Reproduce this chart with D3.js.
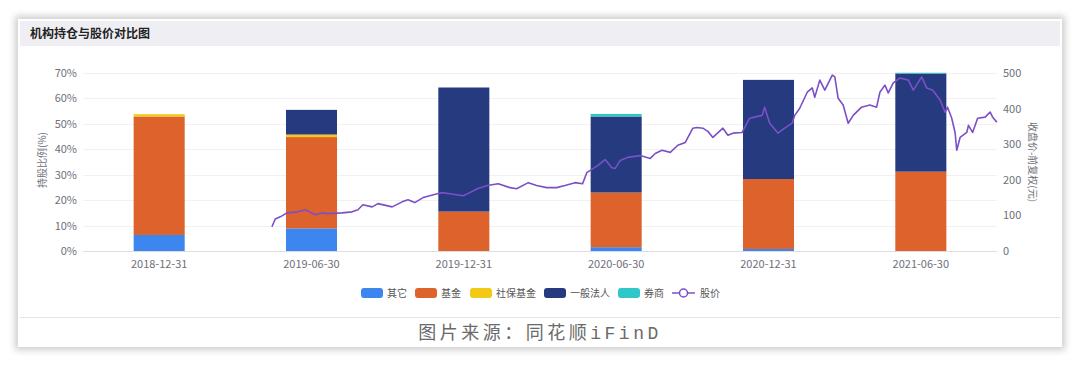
<!DOCTYPE html>
<html>
<head>
  <meta charset="utf-8">
  <style>
    body {
      margin: 0;
      background: #fff;
      font-family: "Noto Sans CJK SC", "Noto Sans", sans-serif;
    }
    .card {
      position: absolute;
      left: 18px;
      top: 19px;
      width: 1044px;
      height: 328px;
      background: #fff;
      box-shadow: 0 0 7px 3px rgba(0,0,0,0.2);
    }
    svg {
      position: absolute;
      left: 0;
      top: 0;
    }
    .tick-label {
      fill: #6e7079;
      font-size: 11px;
    }
    .axis-title {
      fill: #6e7079;
      font-size: 10px;
    }
    .legend-label {
      fill: #555;
      font-size: 10px;
    }
  </style>
  <script src="https://d3js.org/d3.v7.min.js"></script>
</head>
<body>
<div class="card"></div>
<div class="vizualisation-container"></div>
<script>

const categories = ['2018-12-31', '2019-06-30', '2019-12-31', '2020-06-30', '2020-12-31', '2021-06-30'];
const seriesNames = ['其它', '基金', '社保基金', '一般法人', '券商'];

// holdings, % of shares
const otherPct  = [6.3, 8.9, 0, 1.5, 0.8, 0];
const fundPct   = [46.6, 35.9, 15.5, 21.5, 27.5, 31.2];
const ssfPct    = [0.9, 1.0, 0, 0, 0, 0];
const corpPct   = [0, 9.7, 48.8, 29.9, 39.0, 38.6];
const brokerPct = [0, 0, 0, 1.0, 0, 0.3];

// closing price, forward adjusted (yuan)
const priceDates = [
  '2019-05-15','2019-05-19','2019-05-25','2019-06-02','2019-06-15','2019-06-24','2019-07-06','2019-07-14',
  '2019-07-21','2019-08-07','2019-08-19','2019-08-26','2019-09-01','2019-09-12','2019-09-19','2019-10-06',
  '2019-10-18','2019-10-25','2019-11-02','2019-11-12','2019-11-20','2019-11-29','2019-12-05','2019-12-14',
  '2019-12-30','2020-01-07','2020-01-16','2020-01-28','2020-02-10','2020-02-24','2020-03-03','2020-03-17',
  '2020-03-27','2020-04-08','2020-04-20','2020-04-30','2020-05-12','2020-05-21','2020-05-26','2020-06-08',
  '2020-06-17','2020-06-25','2020-06-29','2020-07-05','2020-07-14','2020-07-29','2020-08-10','2020-08-16',
  '2020-08-24','2020-09-03','2020-09-12','2020-09-21','2020-09-30','2020-10-05','2020-10-12','2020-10-18',
  '2020-10-24','2020-11-05','2020-11-11','2020-11-17','2020-11-28','2020-12-07','2020-12-13','2020-12-22',
  '2020-12-25','2020-12-31','2021-01-10','2021-01-18','2021-01-27','2021-01-30','2021-02-05','2021-02-14',
  '2021-02-20','2021-02-23','2021-03-01','2021-03-07','2021-03-16','2021-03-19','2021-03-23','2021-03-29',
  '2021-04-04','2021-04-10','2021-04-20','2021-04-30','2021-05-08','2021-05-12','2021-05-18','2021-05-22',
  '2021-05-28','2021-06-05','2021-06-15','2021-06-21','2021-07-01','2021-07-07','2021-07-14','2021-07-23',
  '2021-07-29','2021-08-01','2021-08-06','2021-08-10','2021-08-12','2021-08-16','2021-08-24','2021-08-26',
  '2021-08-31','2021-09-06','2021-09-15','2021-09-21','2021-09-24','2021-09-29'
];
const priceValues = [
  68, 90, 96, 107, 110, 116, 102, 107,
  105, 107, 110, 116, 130, 124, 133, 124,
  138, 144, 136, 150, 155, 161, 164, 161,
  155, 164, 175, 184, 189, 178, 175, 192,
  184, 178, 178, 184, 192, 189, 220, 240,
  257, 234, 232, 254, 263, 268, 260, 274,
  283, 277, 297, 305, 345, 347, 345, 336,
  319, 345, 325, 331, 333, 373, 376, 381,
  404, 359, 331, 345, 359, 381, 401, 446,
  458, 432, 480, 452, 494, 489, 429, 410,
  359, 381, 404, 410, 404, 446, 466, 444,
  472, 486, 480, 452, 489, 458, 452, 424,
  390, 404, 373, 333, 283, 319, 333, 353,
  333, 373, 376, 390, 376, 362
];

const pctTicks = [0, 10, 20, 30, 40, 50, 60, 70];
const priceTicks = [0, 100, 200, 300, 400, 500];

const seriesColours = ['#3d86ef', '#dd622b', '#f2c916', '#263a80', '#2ec8c8'];
const priceColour = '#7b50c6';

function drawChart(){
  const width = 1080;
  const height = 365;
  const plot = {left: 83, right: 997, top: 73, bottom: 251};

  const svg = d3.select('.vizualisation-container')
    .append('svg')
    .attr('width', width)
    .attr('height', height);

  // title bar
  svg.append('rect')
    .attr('x', 20).attr('y', 21)
    .attr('width', 1040).attr('height', 25)
    .attr('fill', '#efeff3');
  svg.append('text')
    .attr('x', 30).attr('y', 38)
    .attr('font-size', 12)
    .attr('font-weight', 'bold')
    .attr('fill', '#222')
    .text('机构持仓与股价对比图');

  // separator above the source note
  svg.append('line')
    .attr('x1', 20).attr('x2', 1060)
    .attr('y1', 317.5).attr('y2', 317.5)
    .attr('stroke', '#e4e4e4');

  svg.append('text')
    .attr('x', 540).attr('y', 339)
    .attr('text-anchor', 'middle')
    .attr('font-family', '"Liberation Mono", "Noto Sans CJK SC", monospace')
    .attr('font-size', 18)
    .attr('letter-spacing', '3.5px')
    .attr('fill', '#6a6a6a')
    .text('图片来源：同花顺iFinD');

  // scales
  const x = d3.scaleBand()
    .domain(categories)
    .range([plot.left, plot.right]);

  const yPct = d3.scaleLinear()
    .domain([0, 70])
    .range([plot.bottom, plot.top]);

  const yPrice = d3.scaleLinear()
    .domain([0, 500])
    .range([plot.bottom, plot.top]);

  const parseDate = d3.timeParse('%Y-%m-%d');
  const xTime = d3.scaleTime()
    .domain([parseDate(categories[0]), parseDate(categories[categories.length-1])])
    .range([x(categories[0]) + x.bandwidth()/2, x(categories[categories.length-1]) + x.bandwidth()/2]);

  // grid
  svg.append('g')
    .selectAll('line')
    .data(pctTicks)
    .enter()
    .append('line')
      .attr('x1', plot.left).attr('x2', plot.right)
      .attr('y1', d=>Math.round(yPct(d)) + 0.5)
      .attr('y2', d=>Math.round(yPct(d)) + 0.5)
      .attr('stroke', d=> d === 0 ? '#dcdde3' : '#f1f1f4');

  // left axis
  svg.append('g')
    .selectAll('text')
    .data(pctTicks)
    .enter()
    .append('text')
      .attr('class', 'tick-label')
      .attr('x', 77)
      .attr('y', d=>yPct(d) + 4)
      .attr('text-anchor', 'end')
      .text(d=>d + '%');

  svg.append('text')
    .attr('class', 'axis-title')
    .attr('transform', 'translate(46, 160) rotate(-90)')
    .attr('text-anchor', 'middle')
    .text('持股比例(%)');

  // right axis
  svg.append('g')
    .selectAll('text')
    .data(priceTicks)
    .enter()
    .append('text')
      .attr('class', 'tick-label')
      .attr('x', 1003)
      .attr('y', d=>yPrice(d) + 4)
      .text(d=>d);

  svg.append('text')
    .attr('class', 'axis-title')
    .attr('transform', 'translate(1029, 162) rotate(90)')
    .attr('text-anchor', 'middle')
    .text('收盘价-前复权(元)');

  // x axis labels
  svg.append('g')
    .selectAll('text')
    .data(categories)
    .enter()
    .append('text')
      .attr('class', 'tick-label')
      .attr('x', d=>x(d) + x.bandwidth()/2)
      .attr('y', 268)
      .attr('text-anchor', 'middle')
      .attr('fill', '#555')
      .text(d=>d);

  // stacked bars
  const table = categories.map((c, i)=>({
    date: c,
    '其它': otherPct[i],
    '基金': fundPct[i],
    '社保基金': ssfPct[i],
    '一般法人': corpPct[i],
    '券商': brokerPct[i]
  }));
  const stacked = d3.stack().keys(seriesNames)(table);
  const barWidth = x.bandwidth() * 0.335;

  svg.append('g')
    .selectAll('g')
    .data(stacked)
    .enter()
    .append('g')
      .attr('fill', (d,i)=>seriesColours[i])
    .selectAll('rect')
    .data(d=>d)
    .enter()
    .append('rect')
      .attr('x', d=>x(d.data.date) + (x.bandwidth() - barWidth)/2)
      .attr('y', d=>yPct(d[1]))
      .attr('width', barWidth)
      .attr('height', d=>yPct(d[0]) - yPct(d[1]));

  // price line
  const line = d3.line()
    .x((d,i)=>xTime(parseDate(priceDates[i])))
    .y(d=>yPrice(d))
    .curve(d3.curveLinear);

  svg.append('path')
    .datum(priceValues)
    .attr('d', line)
    .attr('fill', 'none')
    .attr('stroke', priceColour)
    .attr('stroke-width', 1.6)
    .attr('stroke-linejoin', 'round');

  // legend
  const legendItems = seriesNames.concat(['股价']);
  const legendX = [361, 415, 470, 544, 618, 672];
  const legend = svg.append('g')
    .selectAll('g')
    .data(legendItems)
    .enter()
    .append('g')
      .attr('transform', (d,i)=>`translate(${legendX[i]}, 293)`);

  legend.filter((d,i)=>i < seriesNames.length)
    .append('rect')
      .attr('x', 0).attr('y', -5)
      .attr('width', 22).attr('height', 10)
      .attr('rx', 3)
      .attr('fill', (d,i)=>seriesColours[i]);

  const priceLegend = legend.filter(d=>d === '股价');
  priceLegend.append('line')
    .attr('x1', 0).attr('x2', 23)
    .attr('y1', 0).attr('y2', 0)
    .attr('stroke', priceColour)
    .attr('stroke-width', 1.5);
  priceLegend.append('circle')
    .attr('cx', 11.5).attr('cy', 0).attr('r', 4)
    .attr('fill', '#fff')
    .attr('stroke', priceColour)
    .attr('stroke-width', 1.5);

  legend.append('text')
    .attr('class', 'legend-label')
    .attr('x', d=>d === '股价' ? 28 : 26)
    .attr('y', 3.5)
    .text(d=>d);
}

window.onload = ()=>{
  drawChart();
};
</script>
</body>
</html>
